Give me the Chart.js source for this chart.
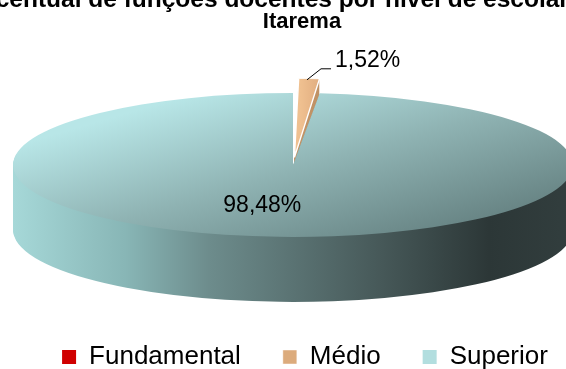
<!DOCTYPE html>
<html>
<head>
<meta charset="utf-8">
<script src="https://cdn.jsdelivr.net/npm/chart.js@4.4.0/dist/chart.umd.min.js"></script>
<style>
  html, body { margin: 0; padding: 0; background: #fff; overflow: hidden; }
  #wrap { width: 610px; height: 369px; }
</style>
</head>
<body>
<div id="wrap"><canvas id="myChart" width="610" height="369"></canvas></div>
<script>
const categories = ['Fundamental', 'Médio', 'Superior'];
const values = [0, 1.52, 98.48];
const titleLines = ['Percentual de funções docentes por nível de escolaridade -', 'Itarema'];
const legendColors = ['#d00000', '#dcab7c', '#b2dedf'];

// aparência da pizza "3D"
const tilt = 0.257;      // altura / largura da elipse
const depth = 65;        // espessura lateral (px)
const pieWidth = 0.918;  // largura da elipse em relação à área do gráfico
const pieShiftX = -12;   // deslocamento horizontal da pizza
const fontFamily = '"Liberation Sans", Arial, sans-serif';

const sideStops = [
    [[0, '#a00000'], [1, '#400000']],
    [[0, '#cf9f70'], [1, '#b3875c']],
    [[0, '#a6d8d8'], [0.2, '#88b6b6'], [0.35, '#6d8c8c'], [0.66, '#465858'], [0.85, '#2c3737'], [1, '#323e3e']]
];

function pieGeometry(chart) {
    const area = chart.chartArea;
    const arc = chart.getDatasetMeta(0).data[0];
    const rx = (area.right - area.left) / 2 * pieWidth;
    const ry = rx * tilt;
    const r = arc.outerRadius;
    return {
        cx: arc.x, cy: arc.y, r: r, rx: rx, ry: ry,
        X0: (area.left + area.right) / 2 + pieShiftX,
        Y0: area.top + ry,
        sx: rx / r, sy: ry / r
    };
}

function applyTilt(ctx, g, dy) {
    ctx.translate(g.X0, g.Y0 + dy);
    ctx.scale(g.sx, g.sy);
    ctx.translate(-g.cx, -g.cy);
}

function toScreen(g, p) {
    return { x: g.X0 + (p.x - g.cx) * g.sx, y: g.Y0 + (p.y - g.cy) * g.sy };
}

function toLocal(g, X, Y) {
    return { x: g.cx + (X - g.X0) / g.sx, y: g.cy + (Y - g.Y0) / g.sy };
}

// gradiente linear definido em pixels da tela, criado no espaço achatado
function gradient(ctx, g, X1, Y1, X2, Y2, stops) {
    const a = toLocal(g, X1, Y1);
    const vx = X2 - X1, vy = Y2 - Y1;
    const ux = vx * g.sx, uy = vy * g.sy;
    const k = (vx * vx + vy * vy) / (ux * ux + uy * uy);
    const gr = ctx.createLinearGradient(a.x, a.y, a.x + ux * k, a.y + uy * k);
    stops.forEach(s => gr.addColorStop(s[0], s[1]));
    return gr;
}

function drawArcWith(ctx, arc, opts) {
    const orig = arc.options;
    arc.options = Object.assign({}, orig, opts);
    arc.draw(ctx);
    arc.options = orig;
}

function topFill(ctx, g, i) {
    if (i === 1) {
        return gradient(ctx, g, g.X0 + 6, 0, g.X0 + 36, 0,
            [[0, '#efc090'], [0.55, '#e3b082'], [1, '#bf9064']]);
    }
    if (i === 0) {
        return gradient(ctx, g, g.X0 - g.rx, g.Y0 - g.ry, g.X0 + g.rx, g.Y0 + g.ry,
            [[0, '#ff2020'], [1, '#800000']]);
    }
    return gradient(ctx, g,
        g.X0 - 0.676 * g.rx, g.Y0 - 0.625 * g.ry,
        g.X0 - 0.452 * g.rx, g.Y0 + 2.375 * g.ry,
        [[0, '#b8e6e7'], [0.45, '#8fb3b3'], [1, '#5f7a7a']]);
}

const pie3d = {
    id: 'pie3d',
    beforeDatasetsDraw(chart) {
        const ctx = chart.ctx;
        const g = pieGeometry(chart);
        const arcs = chart.getDatasetMeta(0).data;
        const left = g.X0 - g.rx, right = g.X0 + g.rx;

        // lateral: o mesmo arco repetido descendo
        const sides = arcs.map((arc, i) => gradient(ctx, g, left, g.Y0, right, g.Y0, sideStops[i]));
        for (let k = depth; k >= 1; k--) {
            ctx.save();
            applyTilt(ctx, g, k);
            arcs.forEach((arc, i) => drawArcWith(ctx, arc, { backgroundColor: sides[i], borderWidth: 0 }));
            ctx.restore();
        }

        // face superior
        ctx.save();
        applyTilt(ctx, g, 0);
        const order = [2, 0, 1];
        order.forEach(i => drawArcWith(ctx, arcs[i], { backgroundColor: topFill(ctx, g, i) }));
        ctx.restore();
        return false;
    },
    afterDraw(chart) {
        const ctx = chart.ctx;
        const g = pieGeometry(chart);
        const arcs = chart.getDatasetMeta(0).data;
        ctx.save();
        ctx.fillStyle = '#000';

        // título
        ctx.textAlign = 'center';
        ctx.textBaseline = 'alphabetic';
        ctx.font = 'bold 24.5px ' + fontFamily;
        ctx.fillText(titleLines[0], 302, 7);
        ctx.font = 'bold 22px ' + fontFamily;
        ctx.fillText(titleLines[1], 302, 28);

        // rótulos de dados
        ctx.font = '23px ' + fontFamily;
        values.forEach((v, i) => {
            if (!v) return;
            const arc = arcs[i];
            const text = v.toFixed(2).replace('.', ',') + '%';
            if (v > 50) {
                const p = toScreen(g, arc.tooltipPosition());
                ctx.textAlign = 'center';
                ctx.textBaseline = 'middle';
                ctx.fillText(text, p.x - 24, p.y + 5);
            } else {
                // mesma conta do ArcElement: desloca off/4 e cresce off/4 * fix
                const off = (arc.options.offset || 0) / 4;
                const half = (arc.startAngle + arc.endAngle) / 2;
                const fix = 1 - Math.sin(Math.min(Math.PI, arc.circumference));
                const reach = arc.outerRadius + off + off * fix;
                const p = toScreen(g, { x: arc.x + Math.cos(half) * reach, y: arc.y + Math.sin(half) * reach });
                ctx.strokeStyle = '#000';
                ctx.lineWidth = 1;
                ctx.beginPath();
                ctx.moveTo(p.x - 2, p.y + 1);
                ctx.lineTo(p.x + 12, p.y - 10);
                ctx.lineTo(p.x + 22, p.y - 10);
                ctx.stroke();
                ctx.textAlign = 'left';
                ctx.textBaseline = 'middle';
                ctx.fillText(text, p.x + 26, p.y - 18);
            }
        });
        ctx.restore();
    }
};

const ctx = document.getElementById('myChart');
new Chart(ctx, {
    type: 'pie',
    data: {
        labels: categories,
        datasets: [{
            data: values,
            backgroundColor: legendColors,
            borderColor: '#ffffff',
            borderWidth: [0, 0.45, 0],
            offset: [0, 36, 0],
            clip: false
        }]
    },
    options: {
        responsive: false,
        animation: false,
        events: [],
        layout: { padding: { top: 93, left: 0, right: 0, bottom: -11 } },
        plugins: {
            title: { display: false },
            tooltip: { enabled: false },
            legend: {
                position: 'bottom',
                labels: {
                    color: '#000',
                    boxWidth: 14,
                    boxHeight: 14,
                    padding: 42,
                    font: { family: fontFamily, size: 26 }
                }
            }
        }
    },
    plugins: [pie3d]
});
</script>
</body>
</html>
